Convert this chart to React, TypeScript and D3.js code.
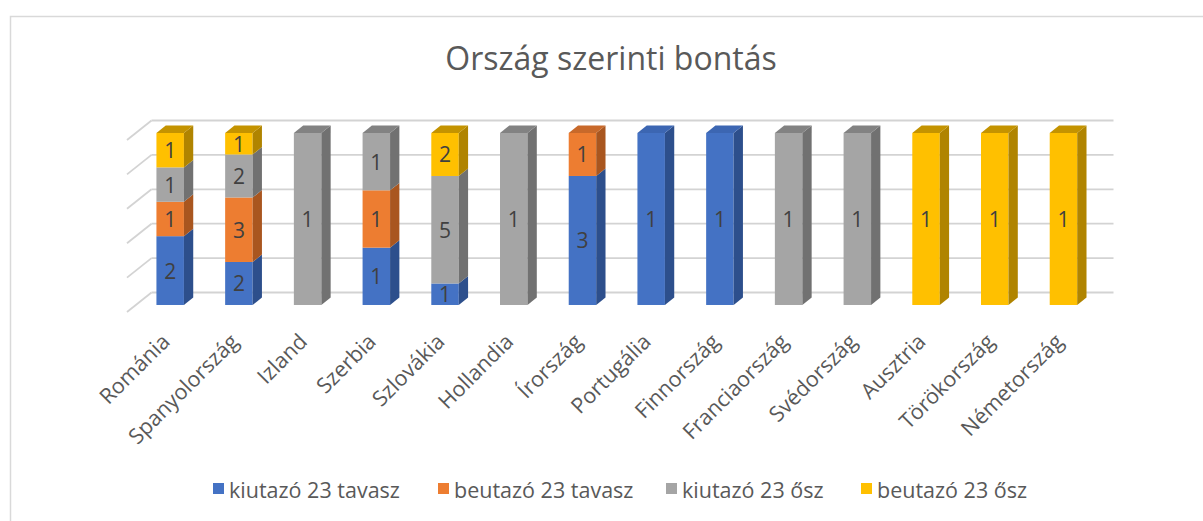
import React from "react";
import * as d3 from "d3";

const categories = [
  "Románia", "Spanyolország", "Izland", "Szerbia", "Szlovákia", "Hollandia", "Írország",
  "Portugália", "Finnország", "Franciaország", "Svédország", "Ausztria", "Törökország", "Németország",
];
const kiutazoTavasz = [2, 2, 0, 1, 1, 0, 3, 1, 1, 0, 0, 0, 0, 0];
const beutazoTavasz = [1, 3, 0, 1, 0, 0, 1, 0, 0, 0, 0, 0, 0, 0];
const kiutazoOsz = [1, 2, 1, 1, 5, 1, 0, 0, 0, 1, 1, 0, 0, 0];
const beutazoOsz = [1, 1, 0, 0, 2, 0, 0, 0, 0, 0, 0, 1, 1, 1];
const seriesNames = ["kiutazó 23 tavasz", "beutazó 23 tavasz", "kiutazó 23 ősz", "beutazó 23 ősz"];
const yTicks = [0, 0.2, 0.4, 0.6, 0.8, 1];
const title = "Ország szerinti bontás";

const frontColors = ["#4472C4", "#ED7D31", "#A5A5A5", "#FFC000"];
const sideColors = ["#2D4F8C", "#A9561F", "#717171", "#B08400"];
const topColors = ["#3C66B2", "#C8692A", "#828282", "#C49300"];

const W = 1203;
const H = 521;
const FONT = "'Open Sans', 'Noto Sans', sans-serif";

export default function App() {
  const seriesArrays = [kiutazoTavasz, beutazoTavasz, kiutazoOsz, beutazoOsz];
  const rows = categories.map((c, i) => {
    const r: any = { cat: c };
    seriesNames.forEach((s, k) => (r[s] = seriesArrays[k][i]));
    return r;
  });
  const stacked = d3.stack().keys(seriesNames).offset(d3.stackOffsetExpand)(rows);

  const x = d3.scaleBand().domain(categories).range([127, 1089]).paddingInner(0.6).paddingOuter(0.3);
  const y = d3.scaleLinear().domain([0, 1]).range([312, 140]);
  const Dx = 24.5, Dy = -19.5;
  const t0 = 0.36, t1 = 0.74;
  const fx = t0 * Dx, fy = t0 * Dy;
  const sx = (t1 - t0) * Dx, sy = (t1 - t0) * Dy;
  const bw = x.bandwidth();

  const x0 = x.range()[0], x1 = x.range()[1];

  const legendX = [213, 438, 666, 861];

  return (
    <svg width={W} height={H} style={{ position: "absolute", left: 0, top: 0 }} fontFamily={FONT}>
      <rect x={0} y={0} width={W} height={H} fill="#fff" />
      <rect x={10.5} y={16.5} width={1220} height={540} fill="none" stroke="#d9d9d9" strokeWidth={1.5} />
      <text x={611} y={70} textAnchor="middle" fontSize={32} fill="#595959">{title}</text>

      {yTicks.map((p) => (
        <g key={p}>
          <line x1={x0} y1={y(p)} x2={x0 + Dx} y2={y(p) + Dy} stroke="#d3d3d3" strokeWidth={1.8} />
          <line x1={x0 + Dx} y1={y(p) + Dy} x2={x1 + Dx} y2={y(p) + Dy} stroke="#d3d3d3" strokeWidth={1.8} />
        </g>
      ))}

      {categories.map((c, i) => {
        const bx = (x(c) as number) + fx;
        const segs = stacked.map((s, k) => ({ k, y0: s[i][0], y1: s[i][1], v: seriesArrays[k][i] })).filter((s) => s.v > 0);
        const topSeg = segs[segs.length - 1];
        return (
          <g key={c}>
            {segs.map((s) => {
              const yt = y(s.y1) + fy;
              const yb = y(s.y0) + fy;
              return (
                <g key={s.k}>
                  <rect x={bx} y={yt} width={bw} height={yb - yt} fill={frontColors[s.k]} />
                  <path
                    d={`M${bx + bw},${yt} L${bx + bw + sx},${yt + sy} L${bx + bw + sx},${yb + sy} L${bx + bw},${yb} Z`}
                    fill={sideColors[s.k]}
                  />
                </g>
              );
            })}
            {topSeg && (
              <path
                d={`M${bx},${y(1) + fy} L${bx + sx},${y(1) + fy + sy} L${bx + bw + sx},${y(1) + fy + sy} L${bx + bw},${y(1) + fy} Z`}
                fill={topColors[topSeg.k]}
              />
            )}
            {segs.map((s) => (
              <text
                key={"l" + s.k}
                x={bx + bw / 2}
                y={(y(s.y0) + y(s.y1)) / 2 + fy}
                textAnchor="middle"
                dominantBaseline="central"
                fontSize={21}
                fill="#404040"
              >
                {s.v}
              </text>
            ))}
            <text
              transform={`translate(${bx + bw / 2 - 10},${332}) rotate(-45)`}
              textAnchor="end"
              dy="0.72em"
              fontSize={21.5}
              fill="#595959"
            >
              {c}
            </text>
          </g>
        );
      })}

      {seriesNames.map((s, k) => (
        <g key={s}>
          <rect x={legendX[k]} y={483} width={11} height={11} fill={frontColors[k]} />
          <text x={legendX[k] + 16} y={489} dominantBaseline="central" fontSize={21.5} fill="#595959">{s}</text>
        </g>
      ))}
    </svg>
  );
}
